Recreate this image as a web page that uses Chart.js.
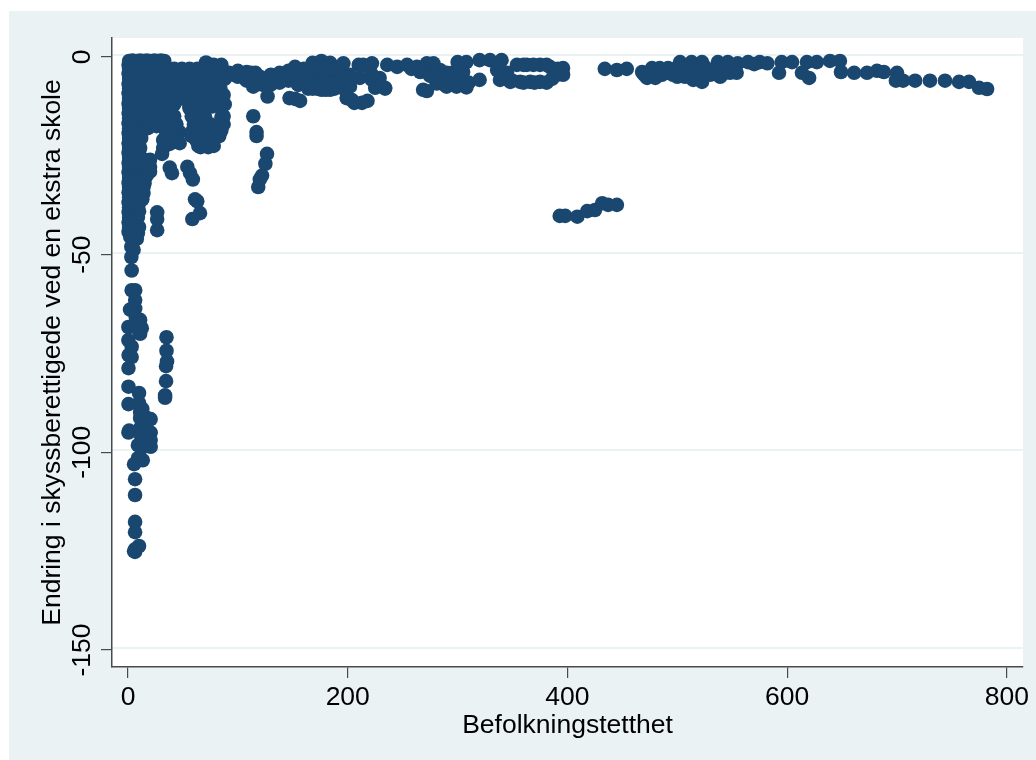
<!DOCTYPE html>
<html>
<head>
<meta charset="utf-8">
<script src="https://cdn.jsdelivr.net/npm/chart.js@4"></script>
<style>
  html, body { margin: 0; padding: 0; background: #fff; }
  canvas { display: block; }
</style>
</head>
<body>
<canvas id="scatterChart" width="1036" height="760"></canvas>
<script>
const xTicks = [0, 200, 400, 600, 800];
const yTicks = [0, -50, -100, -150];

// solid block near the origin, read row by row
const blobX = [
  1, 5, 8, 14, 20, 27, 33, 71, 78, 85,
  1, 7, 14, 21, 28, 35, 42, 49, 56, 63, 70, 77, 84,
  1, 7, 14, 21, 28, 35, 42, 49, 56, 63, 70, 77, 84, 88,
  1, 7, 14, 21, 28, 35, 42, 49, 56, 63, 70, 77, 84, 87,
  1, 7, 14, 21, 28, 35, 42, 49, 56, 63, 70, 77,
  1, 7, 14, 21, 28, 35, 42, 56, 63, 70, 84,
  1, 7, 14, 21, 28, 33, 38, 58, 65, 70, 85, 87,
  1, 7, 14, 18, 26, 33, 40, 59, 66, 72, 85,
  1, 7, 12, 32, 35, 44, 62, 70, 83,
  1, 7, 11, 32, 47, 66, 73, 78, 38, 40, 64, 70, 75,
  1, 7, 12, 31,
  1, 7, 14, 20, 20,
  1, 7, 12, 20,
  1, 7, 14, 14,
  1, 7, 12, 14,
  1, 6, 9,
  1, 6, 9,
  1, 6, 10,
  2, 7,
  3, 5,
  3
];
const blobY = [
  -1, -1, -1, -1, -1, -1, -1, -1.4, -2, -2,
  -3, -3, -3, -3, -3, -3, -3, -3, -3, -3, -3, -3, -3,
  -5.5, -5.5, -5.5, -5.5, -5.5, -5.5, -5.5, -5.5, -5.5, -5.5, -5.5, -5.5, -5.5, -5.5,
  -8, -8, -8, -8, -8, -8, -8, -8, -8, -8, -8, -8, -8, -9.6,
  -10.5, -10.5, -10.5, -10.5, -10.5, -10.5, -10.5, -10.5, -10.5, -10.5, -10.5, -10.5,
  -13, -13, -13, -13, -13, -13, -12, -13, -13, -13, -12,
  -15.5, -15.5, -15.5, -15.5, -15.5, -15, -15, -15, -15.5, -15, -15.2, -15,
  -18, -18, -18, -18, -17.5, -18, -17.7, -18.5, -18, -19, -18.5,
  -20.5, -20.5, -20.5, -21, -19, -20, -21, -20.5, -20,
  -23, -23, -23, -23, -21.8, -22.8, -22.8, -22.5, -22, -20, -22.5, -20, -17,
  -25.5, -25.5, -25.5, -24.5,
  -28, -28, -28, -26, -27.8,
  -30.5, -30.5, -30.5, -29,
  -33, -33, -33, -31,
  -35.5, -35.5, -35.5, -34.5,
  -38, -38, -38,
  -40.5, -40.5, -40.5,
  -43, -43, -43,
  -45.5, -45.5,
  -48, -48.8,
  -50.6
];

// in-between points that close the edges of the block
const fillX = [
  0.5, 0.5, 0.5, 0.5, 0.5, 0.5, 0.5, 0.5, 0.5, 0.5, 0.5, 0.5, 0.5, 0.5, 0.5, 0.5, 0.5, 0.5,
  4, 11, 17, 24, 30, 10, 12, 16, 17, 15, 13, 10, 10, 8, 9,
  10, 18, 25, 32, 39, 46, 53, 60, 67, 74, 81,
  10, 18, 25, 32, 39, 46, 53, 60, 67, 74, 81,
  24, 24, 30, 30, 36, 36, 42, 56, 60, 63, 68, 68, 75, 62, 77,
  36, 44, 38, 42, 47, 58, 66, 72, 88, 87, 84
];
const fillY = [
  -2, -4.2, -6.8, -9.2, -11.8, -14.2, -16.8, -19.2, -21.8, -24.2, -26.8, -29.2, -31.8, -34.2, -36.8, -39.2, -41.8, -44.2,
  -0.9, -0.9, -0.9, -0.9, -0.9, -24, -27, -27, -30, -32, -36, -37, -39, -46, -44.5,
  -7, -7, -7, -7, -7, -4.5, -4.5, -4.5, -4.5, -4, -4,
  -9, -12, -12, -9, -12, -9, -7, -9, -12, -7, -7,
  -14, -17, -14, -17, -13, -16.5, -15, -12.5, -17, -20, -17, -21, -20, -16, -12.5,
  -18, -17, -21, -19, -19, -20, -20, -21, -12, -17, -19
];

// small groups below the block
const clumpX = [38, 40, 54, 56.5, 59, 61, 63, 65.5, 58.5, 26.5, 26.5, 26.5, 114, 117, 117, 126.5, 125, 122, 120, 118.5, 127];
const clumpY = [-28, -29.4, -27.8, -29.4, -31, -36, -36.5, -39.5, -41, -39.3, -41, -43.8, -15, -19, -20, -24.5, -27, -30, -31, -32.9, -10];

// the tail down the left side
const tailX = [3.3, 3.3, 6.5, 6.5, 6.5, 1.8, 11, 12.5, 11, 0.3, 6.5, 0.3, 3.3, 0.5, 3.3, 0.4, 0.4, 10, 0.4, 10, 11, 11, 20.6, 15.5, 0.4, 1, 11, 9, 20.6, 20.6, 20.6, 15.5, 13.4, 9, 5.5, 6.4, 6.4, 6.4, 6.4, 6.4, 10, 6.4, 5.5, 9, 7, 12, 13, 15, 12, 17];
const tailY = [-54, -59, -59, -61.5, -63.6, -63.9, -66.5, -68.6, -70, -68.3, -68.3, -71.6, -73.3, -75.4, -75.9, -78.7, -83.4, -85, -87.8, -87.5, -89.8, -91.3, -91.6, -91, -95, -94.5, -93.9, -98.2, -95, -96.9, -98.6, -96, -102, -101.5, -103, -106.8, -110.8, -117.6, -120.2, -125.2, -123.7, -124.5, -125, -67.5, -65.8, -96, -89, -93, -99, -98];

const sideX = [35, 35, 35.5, 34.6, 34.6, 33.7, 33.7];
const sideY = [-70.9, -74.3, -77, -78.2, -82, -85.6, -86.2];

// band along the top, left part
const bandX = [
  92, 100, 108, 112, 116, 122, 114, 130, 138, 146, 146, 152, 152, 160, 160, 168, 168, 172, 176, 176, 180, 184, 184, 188, 191,
  100, 108, 120, 130, 138, 155, 165, 172, 180, 188, 192, 196, 164, 210,
  96, 104, 112, 118, 125, 134, 142, 150, 156, 164, 172, 180, 188, 164, 172, 180, 188, 168, 176, 184, 192, 195, 155,
  147, 152, 156.6,
  199, 206, 213, 218, 225, 234, 222, 213, 220, 202, 211, 198, 229, 196, 214, 222, 236, 245, 254, 263, 272, 278,
  258, 270, 280, 288, 295, 310, 300,
  266, 275, 284, 290, 299, 281, 290, 299, 308, 305, 320, 300, 308, 320, 329.5, 340, 336, 338.6,
  285, 295, 275, 305, 222,
  348, 357, 366, 375, 381, 354, 363, 375, 384, 396, 396, 390.5, 268.6, 272, 204, 197.5, 202, 234,
  350, 360, 370, 345, 360, 369, 381, 391, 386
];
const bandY = [
  -4, -3.5, -3.8, -6, -4, -7, -7.5, -4.5, -4, -3.5, -6, -2.5, -5, -3, -6, -1.5, -4, -8, -1, -5, -8.3, -1.5, -5, -8, -2.8,
  -5, -6, -5, -7, -6.5, -7, -6, -6, -6, -6, -5, -4, -8, -2,
  -4.5, -4.5, -4, -5.5, -5.5, -5.5, -5, -3.5, -4.5, -3, -3, -3, -3, -6, -7.5, -6.5, -6.5, -8, -8.3, -8.3, -7.5, -5.5, -7,
  -10.4, -10.6, -11.1,
  -10.4, -11.6, -11.6, -11.1, -7.8, -7.8, -5.8, -2.3, -2.3, -4.5, -5.3, -7, -5.3, -1.6, -2, -1.6, -2, -2.5, -2, -2.5, -1.6, -1.6,
  -3, -3, -5.5, -7, -4, -6.5, -6,
  -3.8, -3.8, -3.3, -4, -4.6, -6.7, -7.5, -7.5, -7.7, -5.8, -5.8, -1.3, -1.3, -0.8, -0.8, -0.8, -3.3, -5.8,
  -5, -6, -4.8, -3.8, -4.5,
  -6.3, -6.3, -6.3, -6.3, -6.5, -2, -2, -2, -2.5, -2.8, -4.5, -4.5, -8.3, -8.6, -10.9, -8.3, -7.5, -8,
  -6, -6.5, -6.5, -4, -2, -2, -2, -3, -5.5
];

// band along the top, right part
const farX = [
  434, 445, 454, 468, 472.5, 480, 477, 484, 491.6, 502.5, 502.5, 496, 509, 513, 522.5, 514.5, 522.5, 511.6, 527,
  490, 505, 515, 525, 535, 541, 470, 486, 498, 507, 518, 530, 543, 500, 486,
  539, 537, 546, 555, 564.4, 570, 575, 582, 595, 604.5, 618, 627, 639, 648, 592.6, 613.5, 620, 649, 661, 672.7, 681.8, 688,
  700, 699, 705.5, 716.5, 730, 743.7, 756.5, 765.6, 774.7, 782, 548, 554, 531.6
];
const farY = [
  -3, -3.3, -3, -3.8, -5.3, -5.3, -2.8, -2.8, -2.8, -1.3, -4, -4.5, -4, -1.3, -1.3, -5.8, -6.3, -4, -4,
  -4, -2.8, -3, -2.5, -3, -3, -4.5, -4.5, -3, -5, -5.5, -4.5, -4, -5, -4,
  -5, -1.3, -1.3, -1.6, -1.3, -1.8, -1.3, -1.6, -1.3, -1.3, -1.3, -1.3, -1, -1, -4, -4, -5.3, -3.8, -4, -4, -3.5, -3.8,
  -4, -6, -6, -6, -6, -6, -6.3, -6.3, -7.8, -8.1, -4, -4, -3.8
];

// short run near x = 400
const midX = [393, 398, 409, 418, 425, 431.6, 437, 445];
const midY = [-40.2, -40.2, -40.4, -39, -38.7, -37, -37.4, -37.4];

const groups = [
  [blobX, blobY], [fillX, fillY], [clumpX, clumpY], [tailX, tailY], [sideX, sideY],
  [bandX, bandY], [farX, farY], [midX, midY]
];

const navy = "#1a476f";
const paleBg = "#eaf2f3";
const axisGrey = "#4a4a4a";
const labelFont = { family: "'Liberation Sans', Arial, sans-serif", size: 26.5 };

// paper colour behind the plot, white plot region on top
const backdrop = {
  id: "backdrop",
  beforeDraw(chart) {
    const { ctx, chartArea: a, width, height } = chart;
    ctx.save();
    ctx.fillStyle = "#ffffff";
    ctx.fillRect(0, 0, width, height);
    ctx.fillStyle = paleBg;
    ctx.fillRect(9, 11, width - 9, height - 11);
    ctx.fillStyle = "#ffffff";
    ctx.fillRect(a.left, a.top, a.right - a.left, a.bottom - a.top);
    ctx.restore();
  },
};

new Chart(document.getElementById("scatterChart").getContext("2d"), {
  type: "scatter",
  plugins: [backdrop],
  data: {
    datasets: groups.map(([xs, ys]) => ({
      data: xs.map((x, i) => ({ x: x, y: ys[i] })),
      backgroundColor: navy,
      pointBorderWidth: 0,
      pointRadius: 7.3,
      yAxisID: "y",
    })),
  },
  options: {
    responsive: false,
    animation: false,
    layout: { padding: { top: 38, right: 13, left: 0, bottom: 0 } },
    plugins: { legend: { display: false }, tooltip: { enabled: false } },
    scales: {
      x: {
        type: "linear",
        min: -14.6,
        max: 814.7,
        afterBuildTicks: (s) => { s.ticks = xTicks.map((v) => ({ value: v })); },
        afterFit: (s) => { s.height = 93; },
        border: { color: axisGrey, width: 1.5 },
        grid: { drawOnChartArea: false, drawTicks: true, tickLength: 11, color: axisGrey, lineWidth: 1.2 },
        ticks: { color: "#000", font: labelFont, padding: 4, maxRotation: 0 },
        title: { display: true, text: "Befolkningstetthet", color: "#000", font: labelFont, padding: { top: 0, bottom: 18 } },
      },
      y: {
        type: "linear",
        position: "left",
        min: -154.3,
        max: 4.8,
        afterBuildTicks: (s) => { s.ticks = yTicks.map((v) => ({ value: v })); },
        afterFit: (s) => { s.width = 112; },
        border: { color: axisGrey, width: 1.5 },
        grid: { drawOnChartArea: false, drawTicks: true, tickLength: 11, color: axisGrey, lineWidth: 1.2 },
        ticks: { color: "#000", font: labelFont, minRotation: 90, maxRotation: 90, crossAlign: "center", padding: -8 },
        title: { display: true, text: "Endring i skyssberettigede ved en ekstra skole", color: "#000", font: labelFont, padding: { top: 37, bottom: 0 } },
      },
      // gridlines sit about 2px above the tick marks in the original
      yGrid: {
        type: "linear",
        position: "left",
        min: -154.8,
        max: 4.3,
        afterBuildTicks: (s) => { s.ticks = yTicks.map((v) => ({ value: v })); },
        afterFit: (s) => { s.width = 0; },
        border: { display: false },
        grid: { drawTicks: false, color: paleBg, lineWidth: 2 },
        ticks: { display: false },
      },
    },
  },
});
</script>
</body>
</html>
